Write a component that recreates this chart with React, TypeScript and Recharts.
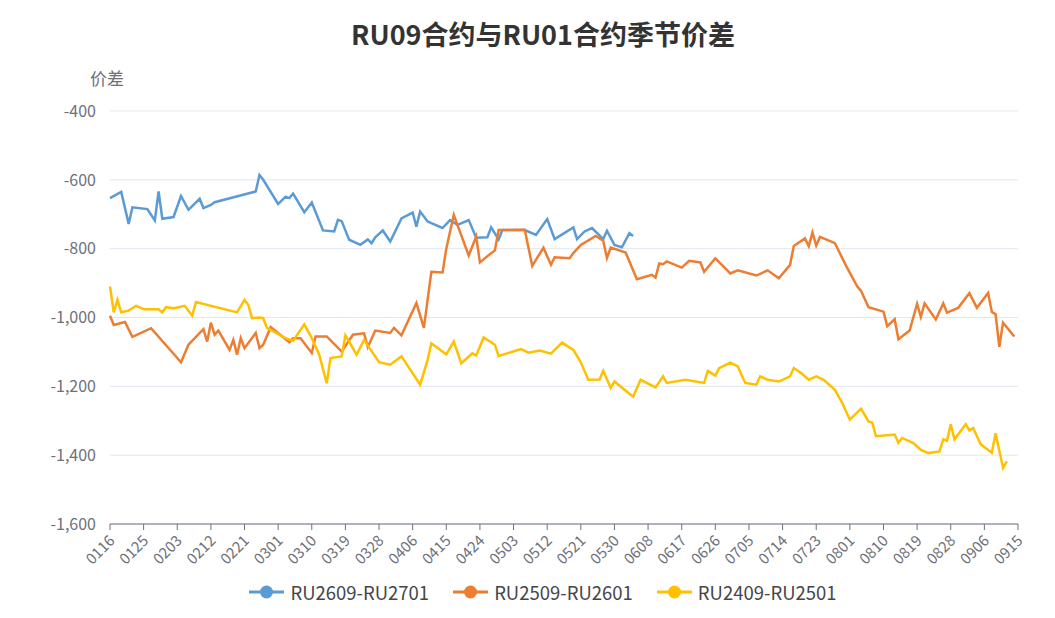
import { LineChart, Line, XAxis, YAxis, CartesianGrid, Legend } from 'recharts';

// 2024 calendar: Jan 16 .. Sep 15, one category per day
const START_MONTH = 1;
const START_DAY = 16;
const END_MONTH = 9;
const END_DAY = 15;
const MONTH_DAYS = [31, 29, 31, 30, 31, 30, 31, 31, 30];

function buildDates(): string[] {
  const out: string[] = [];
  for (let m = START_MONTH; m <= END_MONTH; m++) {
    const first = m === START_MONTH ? START_DAY : 1;
    const last = m === END_MONTH ? END_DAY : MONTH_DAYS[m - 1];
    for (let d = first; d <= last; d++) {
      out.push(String(m).padStart(2, '0') + String(d).padStart(2, '0'));
    }
  }
  return out;
}

const dates = buildDates();
const yTicks = [-1600, -1400, -1200, -1000, -800, -600, -400];

const ru2609: [string, number][] = [
  ['0116', -653], ['0119', -635], ['0121', -728], ['0122', -680], ['0126', -685],
  ['0128', -718], ['0129', -634], ['0130', -713], ['0202', -708], ['0204', -647],
  ['0206', -687], ['0209', -655], ['0210', -682], ['0212', -673], ['0213', -665],
  ['0224', -634], ['0225', -586], ['0226', -600], ['0301', -670], ['0303', -649],
  ['0304', -653], ['0305', -640], ['0308', -694], ['0310', -666], ['0313', -747],
  ['0316', -750], ['0317', -716], ['0318', -720], ['0320', -774], ['0323', -789],
  ['0325', -773], ['0326', -784], ['0327', -767], ['0329', -747], ['0331', -779],
  ['0403', -712], ['0406', -695], ['0407', -736], ['0408', -692], ['0410', -721],
  ['0411', -726], ['0414', -740], ['0416', -717], ['0418', -731], ['0421', -717],
  ['0423', -768], ['0426', -767], ['0427', -738], ['0429', -773], ['0430', -746],
  ['0506', -746], ['0509', -760], ['0512', -714], ['0514', -772], ['0519', -738],
  ['0520', -772], ['0522', -750], ['0524', -740], ['0527', -772], ['0528', -748],
  ['0530', -789], ['0601', -796], ['0603', -755], ['0604', -763],
];

const ru2509: [string, number][] = [
  ['0116', -995], ['0117', -1022], ['0120', -1013], ['0122', -1056], ['0127', -1031],
  ['0204', -1130], ['0206', -1079], ['0210', -1034], ['0211', -1070], ['0212', -1015],
  ['0213', -1050], ['0214', -1038], ['0217', -1094], ['0218', -1065], ['0219', -1108],
  ['0220', -1060], ['0221', -1089], ['0224', -1045], ['0225', -1089], ['0226', -1079],
  ['0228', -1028], ['0304', -1072], ['0305', -1060], ['0307', -1060], ['0310', -1103],
  ['0311', -1055], ['0314', -1055], ['0318', -1099], ['0321', -1050], ['0324', -1046],
  ['0325', -1086], ['0327', -1038], ['0331', -1045], ['0401', -1030], ['0403', -1052],
  ['0407', -958], ['0409', -1030], ['0411', -867], ['0414', -869], ['0415', -800],
  ['0417', -702], ['0421', -820], ['0423', -765], ['0424', -840], ['0427', -813],
  ['0428', -805], ['0429', -746], ['0506', -745], ['0508', -850], ['0511', -797],
  ['0513', -847], ['0514', -825], ['0518', -828], ['0519', -813], ['0521', -789],
  ['0525', -763], ['0527', -777], ['0528', -827], ['0529', -797], ['0602', -811],
  ['0605', -889], ['0609', -876], ['0610', -884], ['0611', -843], ['0612', -845],
  ['0613', -837], ['0617', -855], ['0619', -835], ['0622', -840], ['0623', -867],
  ['0626', -828], ['0630', -872], ['0702', -863], ['0707', -878], ['0710', -863],
  ['0713', -886], ['0716', -847], ['0717', -792], ['0720', -770], ['0721', -793],
  ['0722', -753], ['0723', -791], ['0724', -766], ['0728', -784], ['0731', -850],
  ['0803', -910], ['0804', -923], ['0806', -970], ['0810', -983], ['0811', -1025],
  ['0813', -1005], ['0814', -1063], ['0817', -1038], ['0819', -960], ['0820', -998],
  ['0821', -959], ['0824', -1006], ['0826', -959], ['0827', -986], ['0830', -972],
  ['0902', -929], ['0904', -972], ['0907', -929], ['0908', -984], ['0909', -990],
  ['0910', -1085], ['0911', -1015], ['0914', -1055],
];

const ru2409: [string, number][] = [
  ['0116', -910], ['0117', -985], ['0118', -949], ['0119', -985], ['0121', -980],
  ['0123', -966], ['0125', -976], ['0129', -976], ['0130', -985], ['0131', -970],
  ['0202', -973], ['0205', -966], ['0207', -995], ['0208', -955], ['0219', -985],
  ['0221', -949], ['0222', -963], ['0223', -1002], ['0225', -1000], ['0226', -1002],
  ['0227', -1030], ['0303', -1060], ['0305', -1068], ['0308', -1020], ['0310', -1060],
  ['0312', -1108], ['0314', -1191], ['0315', -1118], ['0318', -1113], ['0319', -1052],
  ['0322', -1108], ['0324', -1065], ['0328', -1130], ['0331', -1137], ['0403', -1113],
  ['0408', -1195], ['0410', -1123], ['0411', -1075], ['0415', -1107], ['0417', -1070],
  ['0419', -1133], ['0422', -1104], ['0423', -1110], ['0425', -1058], ['0428', -1079],
  ['0429', -1112], ['0505', -1092], ['0507', -1102], ['0510', -1096], ['0513', -1105],
  ['0516', -1073], ['0519', -1094], ['0521', -1130], ['0523', -1181], ['0526', -1180],
  ['0527', -1155], ['0529', -1205], ['0530', -1186], ['0604', -1230], ['0606', -1181],
  ['0610', -1203], ['0612', -1171], ['0613', -1190], ['0618', -1181], ['0623', -1190],
  ['0624', -1155], ['0626', -1169], ['0627', -1147], ['0630', -1131], ['0702', -1142],
  ['0704', -1190], ['0707', -1195], ['0708', -1171], ['0710', -1181], ['0713', -1186],
  ['0716', -1171], ['0717', -1147], ['0719', -1162], ['0721', -1181], ['0723', -1171],
  ['0725', -1181], ['0728', -1210], ['0730', -1249], ['0801', -1297], ['0804', -1265],
  ['0806', -1302], ['0807', -1306], ['0808', -1345], ['0813', -1340], ['0814', -1364],
  ['0815', -1350], ['0818', -1365], ['0820', -1385], ['0822', -1394], ['0825', -1389],
  ['0826', -1354], ['0827', -1358], ['0828', -1310], ['0829', -1354], ['0901', -1310],
  ['0902', -1328], ['0903', -1321], ['0905', -1368], ['0908', -1393], ['0909', -1336],
  ['0911', -1437], ['0912', -1418],
];

const series = [
  { key: 'ru2609', name: 'RU2609-RU2701', color: '#5b9bd5', values: ru2609 },
  { key: 'ru2509', name: 'RU2509-RU2601', color: '#ed7d31', values: ru2509 },
  { key: 'ru2409', name: 'RU2409-RU2501', color: '#ffc000', values: ru2409 },
];

const data = dates.map((date) => {
  const row: Record<string, string | number | null> = { date };
  for (const s of series) {
    const hit = s.values.find((p) => p[0] === date);
    row[s.key] = hit ? hit[1] : null;
  }
  return row;
});

const FONT = '"Noto Sans CJK SC", "Noto Sans", sans-serif';
const AXIS_COLOR = '#6e7079';

function XTick(props: any) {
  const { x, y, payload } = props;
  return (
    <g transform={`translate(${x + 2},${y + 6})`}>
      <text
        x={0}
        y={0}
        dy="0.35em"
        textAnchor="end"
        transform="rotate(-45)"
        fill={AXIS_COLOR}
        fontSize={15}
        fontFamily={FONT}
      >
        {payload.value}
      </text>
    </g>
  );
}

function LegendContent() {
  return (
    <div
      style={{
        display: 'flex',
        justifyContent: 'center',
        alignItems: 'center',
        height: 26,
        gap: 24,
        paddingLeft: 60,
        fontFamily: FONT,
        fontSize: 18.5,
        color: '#464646',
      }}
    >
      {series.map((s) => (
        <div key={s.key} style={{ display: 'flex', alignItems: 'center', gap: 6 }}>
          <svg width={35} height={14}>
            <line x1={0} y1={7} x2={35} y2={7} stroke={s.color} strokeWidth={3} />
            <circle cx={17.5} cy={7} r={6.5} fill={s.color} />
          </svg>
          <span>{s.name}</span>
        </div>
      ))}
    </div>
  );
}

export default function App() {
  return (
    <div style={{ position: 'relative', width: 1040, height: 602, fontFamily: FONT }}>
      <div
        style={{
          position: 'absolute',
          left: 0,
          width: 1070,
          top: 8,
          textAlign: 'center',
          fontSize: 27,
          fontWeight: 700,
          color: '#333',
          lineHeight: '36px',
        }}
      >
        RU09合约与RU01合约季节价差
      </div>
      <div
        style={{
          position: 'absolute',
          left: 82,
          top: 57,
          fontSize: 17,
          color: AXIS_COLOR,
        }}
      >
        价差
      </div>
      <LineChart
        width={1040}
        height={602}
        data={data}
        margin={{ top: 103, right: 30, bottom: 5, left: 0 }}
      >
        <CartesianGrid vertical={false} stroke="#e0e6f1" />
        <XAxis
          dataKey="date"
          interval={8}
          height={55}
          stroke={AXIS_COLOR}
          tickSize={6}
          tick={<XTick />}
        />
        <YAxis
          width={102}
          domain={[-1600, -400]}
          ticks={yTicks}
          axisLine={false}
          tickLine={false}
          tickMargin={8}
          tick={{ fill: AXIS_COLOR, fontSize: 16, fontFamily: FONT }}
          tickFormatter={(v: number) => v.toLocaleString('en-US')}
        />
        <Legend verticalAlign="bottom" content={<LegendContent />} />
        {series.map((s) => (
          <Line
            key={s.key}
            type="linear"
            dataKey={s.key}
            name={s.name}
            stroke={s.color}
            strokeWidth={2.5}
            dot={false}
            connectNulls
            isAnimationActive={false}
          />
        ))}
      </LineChart>
    </div>
  );
}
